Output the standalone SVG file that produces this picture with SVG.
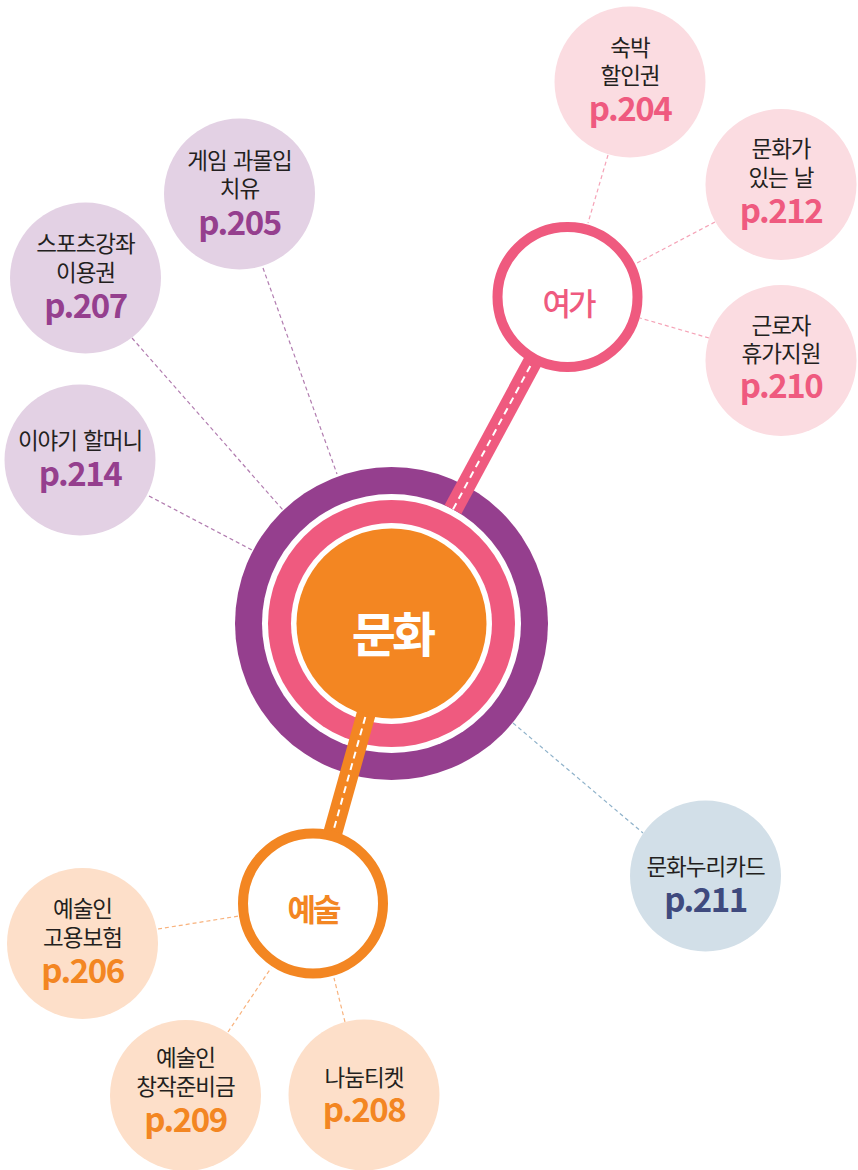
<svg xmlns="http://www.w3.org/2000/svg" width="858" height="1170" viewBox="0 0 858 1170">
<style>
.lbl{font-family:"Noto Sans CJK KR","Noto Sans",sans-serif;font-size:22.5px;fill:#231F20;text-anchor:middle;letter-spacing:-1px;word-spacing:2px}
.pg{font-family:"Noto Sans CJK KR","Noto Sans",sans-serif;font-size:33px;font-weight:700;text-anchor:middle;letter-spacing:-1.5px}
.pink{fill:#EF5A7F}.purple{fill:#953F8E}.orange{fill:#F38622}.navy{fill:#3F4A7E}
.nPink{fill:#FBDCE1}.nPurple{fill:#E3D1E4}.nOrange{fill:#FDDFC9}.nBlue{fill:#D2DFE8}
.dl{stroke-width:1.2;stroke-dasharray:4 3;fill:none}
.band-dash{stroke:#fff;stroke-width:2;stroke-dasharray:7 5;fill:none}
.hubTitle{font-family:"Noto Sans CJK KR","Noto Sans",sans-serif;text-anchor:middle}
</style>

<g id="hub">
  <circle cx="391.5" cy="623.5" r="156.5" fill="#953F8E"/>
  <circle cx="391.5" cy="623.5" r="129.5" fill="#FFFFFF"/>
  <circle cx="391.5" cy="623.5" r="123.5" fill="#EF5A7F"/>
  <circle cx="391.5" cy="623.5" r="100.5" fill="#FFFFFF"/>
  <circle cx="391.5" cy="623.5" r="95" fill="#F38622"/>
</g>

<g id="connectors">
  <line x1="453.0" y1="509.4" x2="567.5" y2="297" stroke="#EF5A7F" stroke-width="19"/>
  <line x1="453.0" y1="509.4" x2="567.5" y2="297" class="band-dash"/>
  <line x1="366.4" y1="713" x2="313" y2="903.5" stroke="#F38622" stroke-width="19"/>
  <line x1="365.3" y1="717" x2="313" y2="903.5" class="band-dash"/>
  <line x1="263" y1="268" x2="337" y2="474" class="dl" stroke="#B27DB0"/>
  <line x1="132" y1="338" x2="283" y2="510" class="dl" stroke="#B27DB0"/>
  <line x1="149" y1="496" x2="252" y2="550" class="dl" stroke="#B27DB0"/>
  <line x1="608" y1="155" x2="588" y2="223" class="dl" stroke="#F5A3B7"/>
  <line x1="715" y1="222" x2="637" y2="263" class="dl" stroke="#F5A3B7"/>
  <line x1="709" y1="338" x2="640" y2="318" class="dl" stroke="#F5A3B7"/>
  <line x1="513" y1="723" x2="643" y2="833" class="dl" stroke="#8FB2CA"/>
  <line x1="158" y1="929" x2="239" y2="916" class="dl" stroke="#F8B27D"/>
  <line x1="228" y1="1032" x2="271" y2="968" class="dl" stroke="#F8B27D"/>
  <line x1="345" y1="1022" x2="334" y2="978" class="dl" stroke="#F8B27D"/>
</g>

<g id="hub-label">
  <text x="392" y="652" class="hubTitle" font-size="48" font-weight="700" fill="#FFFFFF" letter-spacing="-4">문화</text>
</g>

<g id="leisure">
  <circle cx="567.5" cy="297" r="70" fill="#FFFFFF" stroke="#EF5A7F" stroke-width="10"/>
  <text x="568" y="315" class="hubTitle" font-size="31" font-weight="500" fill="#EF5A7F" letter-spacing="-3">여가</text>
</g>

<g id="arts">
  <circle cx="313" cy="903.5" r="70" fill="#FFFFFF" stroke="#F38622" stroke-width="10"/>
  <text x="313" y="921" class="hubTitle" font-size="31" font-weight="700" fill="#F38622" letter-spacing="-3">예술</text>
</g>

<g id="n204">
  <circle cx="630" cy="82" r="75.5" class="nPink"/>
  <text x="630" y="56" class="lbl">숙박</text>
  <text x="630" y="84" class="lbl">할인권</text>
  <text x="630" y="121" class="pg pink">p.204</text>
</g>

<g id="n212">
  <circle cx="781" cy="184.5" r="75.5" class="nPink"/>
  <text x="781" y="157" class="lbl">문화가</text>
  <text x="781" y="186" class="lbl">있는 날</text>
  <text x="781" y="223" class="pg pink">p.212</text>
</g>

<g id="n210">
  <circle cx="781" cy="360.5" r="75.5" class="nPink"/>
  <text x="781" y="334" class="lbl">근로자</text>
  <text x="781" y="362" class="lbl">휴가지원</text>
  <text x="781" y="398" class="pg pink">p.210</text>
</g>

<g id="n205">
  <circle cx="239.5" cy="194" r="75.5" class="nPurple"/>
  <text x="239.5" y="169" class="lbl">게임 과몰입</text>
  <text x="239.5" y="197" class="lbl">치유</text>
  <text x="239.5" y="235" class="pg purple">p.205</text>
</g>

<g id="n207">
  <circle cx="85.5" cy="278" r="75.5" class="nPurple"/>
  <text x="85.5" y="252" class="lbl">스포츠강좌</text>
  <text x="85.5" y="281" class="lbl">이용권</text>
  <text x="85.5" y="318" class="pg purple">p.207</text>
</g>

<g id="n214">
  <circle cx="80" cy="460" r="75.5" class="nPurple"/>
  <text x="80" y="449" class="lbl">이야기 할머니</text>
  <text x="80" y="486" class="pg purple">p.214</text>
</g>

<g id="n211">
  <circle cx="705.5" cy="876" r="75.5" class="nBlue"/>
  <text x="705.5" y="875" class="lbl">문화누리카드</text>
  <text x="705.5" y="912" class="pg navy">p.211</text>
</g>

<g id="n206">
  <circle cx="82.5" cy="943.5" r="75.5" class="nOrange"/>
  <text x="82.5" y="917" class="lbl">예술인</text>
  <text x="82.5" y="946" class="lbl">고용보험</text>
  <text x="82.5" y="983" class="pg orange">p.206</text>
</g>

<g id="n209">
  <circle cx="185.5" cy="1095.5" r="75.5" class="nOrange"/>
  <text x="185.5" y="1066" class="lbl">예술인</text>
  <text x="185.5" y="1095" class="lbl">창작준비금</text>
  <text x="185.5" y="1132" class="pg orange">p.209</text>
</g>

<g id="n208">
  <circle cx="364" cy="1095" r="75.5" class="nOrange"/>
  <text x="364" y="1086" class="lbl">나눔티켓</text>
  <text x="364" y="1122" class="pg orange">p.208</text>
</g>
</svg>
